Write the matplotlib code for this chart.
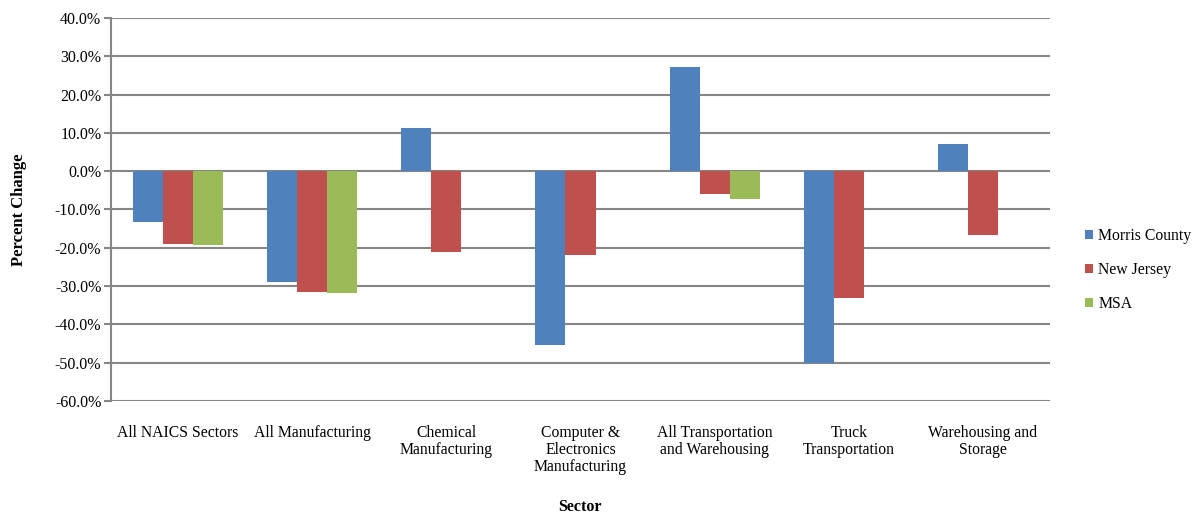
import numpy as np
import matplotlib
matplotlib.use("Agg")
import matplotlib.pyplot as plt
from matplotlib.ticker import PercentFormatter

plt.rcParams["font.family"] = ["Liberation Serif", "DejaVu Serif"]
plt.rcParams["axes.unicode_minus"] = False

sectors = ["All NAICS Sectors", "All Manufacturing", "Chemical\nManufacturing",
           "Computer &\nElectronics\nManufacturing", "All Transportation\nand Warehousing",
           "Truck\nTransportation", "Warehousing and\nStorage"]
morris = [-13.3, -29.0, 11.2, -45.4, 27.3, -50.1, 7.0]
new_jersey = [-19.1, -31.6, -21.2, -22.0, -6.0, -33.0, -16.7]
msa = [-19.2, -31.9, np.nan, np.nan, -7.3, np.nan, np.nan]

series = [("Morris County", morris, "#4f81bd"),
          ("New Jersey", new_jersey, "#c0504d"),
          ("MSA", msa, "#9bbb59")]

fig = plt.figure(figsize=(12.01, 5.15), dpi=100)
ax = fig.add_axes([111/1201, 1-401/515, (1050-111)/1201, (401-18)/515])

x = np.arange(len(sectors))
w = 0.224
for i, (name, vals, col) in enumerate(series):
    ax.bar(x + (i-1)*w, vals, w, color=col, label=name, zorder=3)

ax.set_xlim(-0.5, len(sectors)-0.5)
ax.set_ylim(-60, 40)
ax.set_yticks(np.arange(-60, 41, 10))
ax.yaxis.set_major_formatter(PercentFormatter(decimals=1))
ax.grid(axis="y", color="#868686", linewidth=1.5, zorder=0)
for s in ["top", "right", "bottom"]:
    ax.spines[s].set_visible(False)
ax.spines["left"].set_color("#868686")
ax.spines["left"].set_linewidth(1.5)
ax.tick_params(axis="y", length=5, color="#868686", width=1.5, labelsize=11.5, pad=2)
ax.set_xticks(x)
ax.set_xticklabels(sectors, fontsize=11.3, va="top", linespacing=1.1)
ax.tick_params(axis="x", length=0, pad=17)

fig.text(580/1201, 1-507/515, "Sector", fontsize=11.5, fontweight="bold",
         ha="center", va="center")
ax.set_ylabel("Percent Change", fontsize=12, fontweight="bold", labelpad=20)

ax.legend(loc="center left", bbox_to_anchor=(1.022, 0.342), frameon=False,
          fontsize=11.3, handlelength=0.55, handleheight=0.55, handletextpad=0.3,
          labelspacing=1.15)

fig.savefig("out.png", dpi=100)
